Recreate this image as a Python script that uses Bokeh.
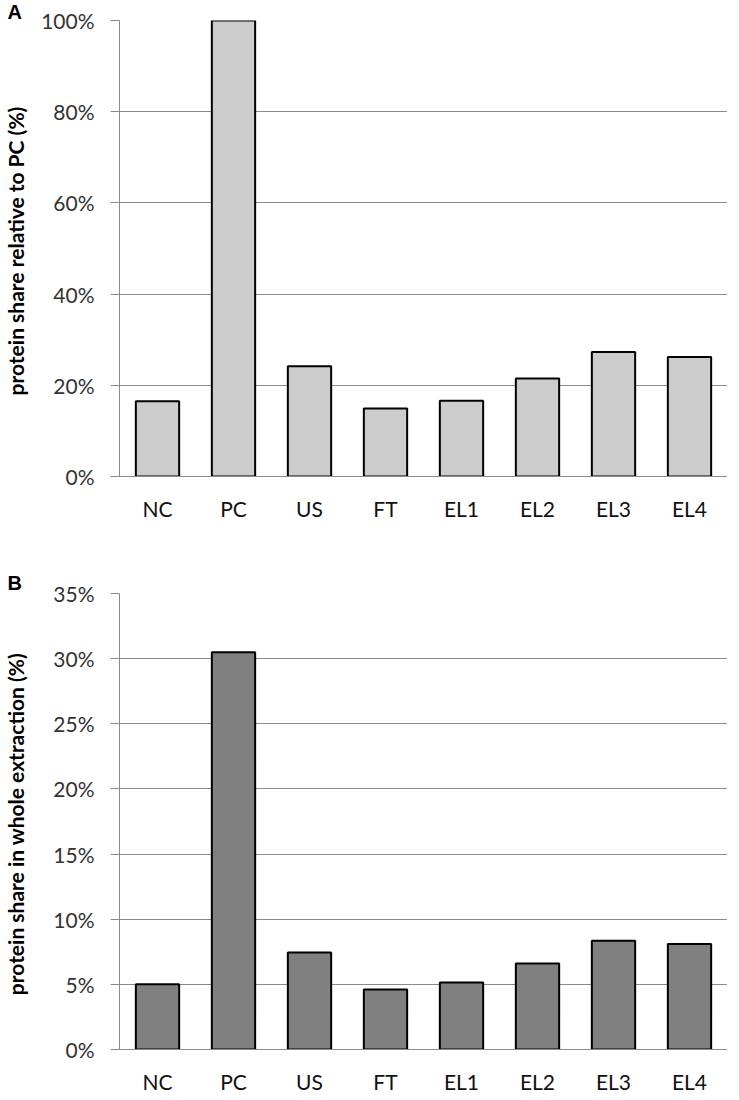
from bokeh.plotting import figure
from bokeh.layouts import column
from bokeh.models import FixedTicker, PrintfTickFormatter, Title, Range1d
from bokeh.embed import file_html
from bokeh.resources import INLINE

categories = ["NC", "PC", "US", "FT", "EL1", "EL2", "EL3", "EL4"]
share_rel_pc = [16.5, 100.0, 24.2, 14.9, 16.6, 21.5, 27.3, 26.2]
share_whole = [5.0, 30.5, 7.45, 4.6, 5.15, 6.6, 8.35, 8.1]
ticks_a = [0, 20, 40, 60, 80, 100]
ticks_b = [0, 5, 10, 15, 20, 25, 30, 35]
title_a = "protein share relative to PC  (%)"
title_b = "protein share  in whole extraction (%)"

FONT = "Lato"
GRID = "#8a8a8a"


def make_panel(values, ymax, ticks, ylabel, letter, letter_standoff, fill,
               height, top, bottom, lab_standoff):
    p = figure(x_range=categories, width=727, height=height,
               output_backend="svg", toolbar_location=None,
               min_border_left=114, min_border_right=0,
               min_border_top=top, min_border_bottom=bottom)
    p.y_range = Range1d(0, ymax)
    p.x_range.range_padding = 0
    p.vbar(x=categories, top=values, width=0.57, bottom=0,
           fill_color=fill, line_color="black", line_width=2)
    p.outline_line_color = None
    p.xgrid.grid_line_color = None
    p.ygrid.grid_line_color = GRID
    p.ygrid.grid_line_width = 1
    p.yaxis.ticker = FixedTicker(ticks=ticks)
    p.yaxis.formatter = PrintfTickFormatter(format="%d%%")
    for ax in (p.xaxis, p.yaxis):
        ax.axis_line_color = GRID
        ax.major_tick_line_color = GRID
        ax.minor_tick_line_color = None
        ax.major_label_text_font = FONT
        ax.major_label_text_font_size = "21px"
    p.yaxis.major_label_text_color = "#333333"
    p.xaxis.major_label_text_color = "#111111"
    p.yaxis.major_tick_out = 9
    p.yaxis.major_tick_in = 0
    p.yaxis.major_label_standoff = 16
    p.xaxis.major_tick_out = 0
    p.xaxis.major_tick_in = 0
    p.xaxis.major_label_standoff = 19
    p.yaxis.axis_label = ylabel
    p.yaxis.axis_label_text_font = FONT
    p.yaxis.axis_label_text_font_style = "bold"
    p.yaxis.axis_label_text_font_size = "21px"
    p.yaxis.axis_label_text_color = "black"
    p.yaxis.axis_label_standoff = lab_standoff
    p.add_layout(Title(text=letter, align="left", offset=-112,
                       standoff=letter_standoff,
                       text_font="Liberation Sans", text_font_style="bold",
                       text_font_size="20px", text_color="black"), "above")
    return p


pa = make_panel(share_rel_pc, 100, ticks_a, title_a, "A", -4, "#cccccc",
                532, 12, 56, 10)
pb = make_panel(share_whole, 35, ticks_b, title_b, "B", 0, "#808080",
                564, 61, 44, 22)

layout = column(pa, pb)
open("out.html", "w").write(file_html(layout, INLINE))
